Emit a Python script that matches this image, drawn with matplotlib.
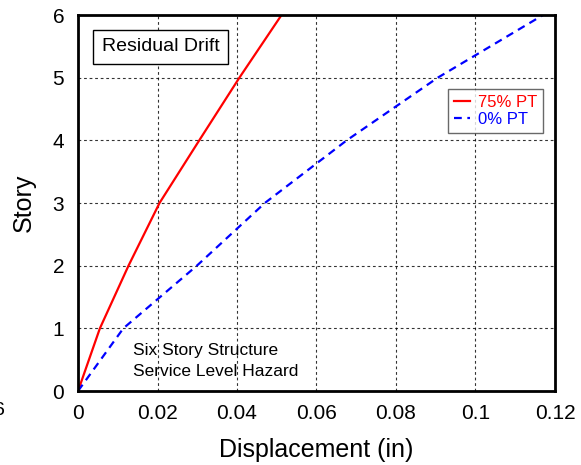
import matplotlib
matplotlib.use("Agg")
from matplotlib import pyplot as plt

plt.rcParams['font.family'] = ['Liberation Sans', 'DejaVu Sans']

# residual displacement per story (in)
story = [0, 1, 2, 3, 4, 5, 6]
disp_75pt = [0.0, 0.0055, 0.0127, 0.0205, 0.0305, 0.0406, 0.0512]
disp_0pt = [0.0, 0.0114, 0.0299, 0.0470, 0.0676, 0.0905, 0.1170]

x_ticks = [0, 0.02, 0.04, 0.06, 0.08, 0.1, 0.12]
x_labels = ["0", "0.02", "0.04", "0.06", "0.08", "0.1", "0.12"]
y_ticks = [0, 1, 2, 3, 4, 5, 6]

fig = plt.figure(figsize=(5.81, 4.65), dpi=100)
ax = fig.add_axes([0.1343, 0.1591, 0.8209, 0.8086])

ax.plot(disp_75pt, story, color="red", lw=1.6, label="75% PT")
ax.plot(disp_0pt, story, color="blue", lw=1.6, ls=(0, (3.5, 2.5)), label="0% PT")

ax.set_xlim(0, 0.12)
ax.set_ylim(0, 6)
ax.set_xticks(x_ticks)
ax.set_xticklabels(x_labels)
ax.set_yticks(y_ticks)
ax.tick_params(labelsize=15, length=0)
ax.tick_params(axis="x", pad=9)
ax.tick_params(axis="y", pad=10)
ax.grid(True, color="black", ls=(0, (2.5, 2.5)), lw=0.8, alpha=0.8)
for sp in ax.spines.values():
    sp.set_linewidth(2)

ax.set_xlabel("Displacement (in)", fontsize=18, labelpad=11)
ax.set_ylabel("Story", fontsize=18, labelpad=12)

ax.text(0.006, 5.49, "Residual Drift", fontsize=14, va="center", ha="left",
        bbox=dict(boxstyle="square,pad=0.45", fc="white", ec="black", lw=1))
ax.text(0.0138, 0.48, "Six Story Structure\nService Level Hazard", fontsize=12.5,
        va="center", ha="left", linespacing=1.45)

leg = ax.legend(loc="upper right", bbox_to_anchor=(0.975, 0.803), fontsize=12,
                frameon=True, fancybox=False, handlelength=1.0, handletextpad=0.45,
                borderpad=0.35, labelspacing=0.12, borderaxespad=0)
leg.get_frame().set_edgecolor("#444444")
leg.get_frame().set_linewidth(1)
for txt, c in zip(leg.get_texts(), ["red", "blue"]):
    txt.set_color(c)

# clipped tick label of the neighbouring panel
fig.text(5 / 581, 0.118, "6", fontsize=14, ha="right", va="center")

fig.savefig("out.png", dpi=100)
